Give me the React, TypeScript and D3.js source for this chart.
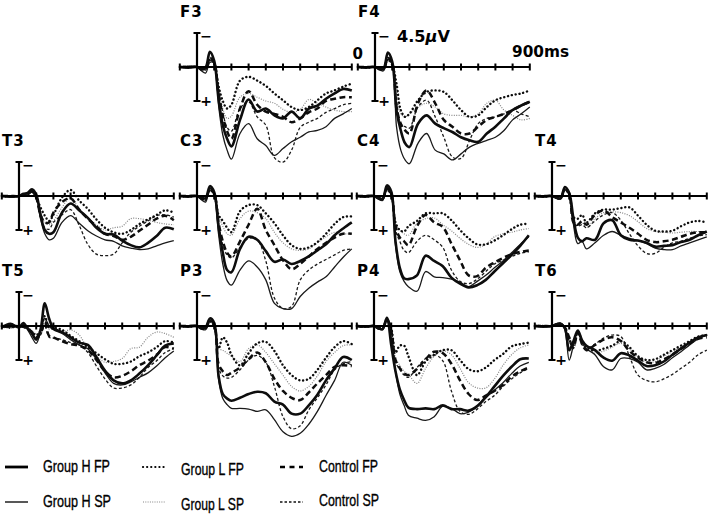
import React from 'react';
import * as d3 from 'd3';

// time points (ms)
const TIMES = [-100, -50, 0, 25, 50, 75, 100, 125, 150, 175, 200, 250, 300, 350, 400, 450, 500, 550, 600, 650, 700, 750, 800, 850, 900];
const SERIES = ['Group H FP', 'Group H SP', 'Group L FP', 'Group L SP', 'Control FP', 'Control SP'];
const X_TICKS = [-100, 100, 200, 300, 400, 500, 600, 700, 800, 900];

// amplitudes (µV, positive plotted downward), rows in SERIES order
const F3 = [
  [0, 0.1, 0, 0.3, 0.1, -2.0, -0.8, 4.2, 7.7, 9.5, 10.5, 7.0, 4.3, 5.9, 5.5, 6.4, 6.8, 5.9, 6.8, 5.5, 5.1, 4.2, 3.5, 2.9, 3.1],
  [0, -0.1, 0, 0.5, 0.8, -0.6, -0.5, 5.0, 9.0, 11.0, 12.2, 8.8, 7.5, 9.5, 10.4, 11.7, 10.8, 9.9, 9.3, 8.6, 8.4, 7.9, 6.8, 6.2, 5.5],
  [0, 0, 0, 0.2, 0.2, -1.0, -0.5, 2.5, 4.5, 5.5, 5.0, 1.8, 1.3, 1.8, 2.5, 3.5, 4.4, 5.3, 5.7, 5.3, 4.4, 3.5, 3.1, 2.6, 2.2],
  [0, 0.1, 0, 0.3, 0.3, -0.8, -0.3, 2.5, 5.5, 6.8, 6.5, 4.0, 3.5, 4.0, 4.5, 4.8, 5.6, 6.0, 5.6, 4.3, 4.8, 5.3, 5.7, 5.9, 5.9],
  [0, 0, 0, 0.2, 0.2, -1.2, -0.6, 3.5, 6.5, 8.5, 9.5, 5.5, 3.2, 5.0, 5.9, 6.2, 6.6, 7.3, 6.8, 6.0, 5.5, 4.5, 4.2, 4.0, 4.0],
  [0, 0.1, 0, 0.4, 0.4, -0.9, -0.4, 3.0, 6.0, 8.0, 8.5, 5.5, 4.6, 6.6, 7.7, 12.0, 12.6, 11.0, 8.0, 7.3, 6.8, 6.0, 5.5, 5.0, 4.8],
];
const F4 = [
  [0, 0.1, 0, 0.2, 0.2, -1.9, -0.7, 5.7, 8.4, 10.1, 10.6, 7.5, 6.4, 7.5, 8.1, 8.6, 9.3, 9.7, 9.9, 8.8, 7.9, 6.8, 5.7, 5.1, 4.6],
  [0, 0, 0, 0.4, 0.5, -1.0, -0.4, 7.9, 11.0, 12.3, 12.8, 10.1, 8.8, 11.0, 11.5, 12.3, 11.5, 10.6, 10.1, 9.7, 9.3, 8.4, 7.0, 6.2, 5.3],
  [0, 0.1, 0, 0.2, 0.2, -1.0, -0.3, 2.2, 5.7, 6.6, 6.2, 4.4, 3.3, 3.1, 3.3, 4.4, 5.7, 6.6, 6.4, 5.3, 4.4, 4.0, 3.7, 3.5, 3.1],
  [0, 0, 0, 0.3, 0.3, -0.8, -0.3, 2.6, 6.2, 6.6, 6.2, 5.3, 4.8, 5.3, 6.2, 6.4, 6.4, 6.6, 6.2, 4.8, 4.4, 5.7, 6.4, 7.0, 6.8],
  [0, 0, 0, 0.2, 0.3, -1.2, -0.5, 5.3, 7.5, 8.4, 8.8, 4.8, 3.1, 4.8, 7.0, 7.9, 8.8, 8.8, 7.9, 7.0, 6.6, 6.2, 5.7, 5.1, 4.6],
  [0, 0.1, 0, 0.3, 0.4, -1.0, -0.4, 4.4, 7.5, 7.9, 8.1, 5.3, 4.4, 6.6, 9.3, 11.9, 12.1, 9.7, 7.5, 6.8, 6.6, 6.2, 5.7, 6.2, 6.6],
];
const T3 = [
  [0, 0.1, 0, -0.3, -0.4, -0.9, -0.2, 2.5, 4.5, 5.0, 4.8, 2.2, 1.0, 1.9, 2.9, 4.2, 5.0, 5.1, 5.9, 6.5, 6.8, 6.2, 5.3, 4.2, 4.4],
  [0, 0, 0, -0.2, -0.3, -0.7, 0.0, 3.0, 5.0, 5.8, 5.6, 3.5, 2.6, 3.6, 4.6, 5.3, 5.8, 6.0, 6.6, 6.9, 7.1, 7.0, 6.6, 6.2, 5.9],
  [0, 0.1, 0, -0.2, -0.2, -0.6, 0.2, 1.5, 2.6, 3.3, 2.5, 0.2, -0.8, 0.6, 1.7, 3.1, 4.2, 4.8, 5.0, 4.5, 3.7, 3.1, 2.5, 1.9, 2.2],
  [0.1, 0, 0, -0.2, -0.1, -0.5, 0.3, 2.0, 3.5, 3.8, 3.3, 1.5, 0.2, 1.8, 3.0, 3.8, 4.5, 4.2, 4.0, 3.0, 3.0, 3.2, 3.5, 3.7, 3.8],
  [0, 0, 0, -0.2, -0.2, -0.6, 0.2, 2.5, 3.5, 3.5, 2.2, 0.8, 0.3, 1.8, 3.0, 4.0, 5.0, 5.3, 5.8, 5.4, 4.6, 3.8, 3.0, 2.6, 3.2],
  [0, 0.1, 0, -0.2, -0.2, -0.6, 0.3, 2.8, 4.2, 4.4, 3.5, 2.5, 1.8, 3.9, 6.4, 7.7, 7.9, 7.7, 6.2, 4.8, 4.0, 3.3, 2.6, 2.5, 2.8],
];
const C3 = [
  [0, 0.1, 0, 0.2, 0.3, -1.3, -0.5, 4.0, 7.5, 9.8, 10.1, 7.0, 5.4, 5.8, 7.3, 8.7, 8.4, 9.0, 8.6, 8.0, 7.2, 6.4, 5.2, 4.3, 3.5],
  [0, 0, 0, 0.5, 0.8, -1.0, -0.3, 5.0, 9.0, 11.2, 11.8, 9.8, 8.6, 9.4, 11.1, 14.2, 14.9, 14.9, 13.3, 12.2, 11.4, 10.7, 9.4, 8.1, 7.0],
  [0, 0.1, 0, 0.3, 0.4, -0.8, -0.2, 2.5, 3.3, 4.2, 4.8, 2.0, 1.2, 1.2, 2.3, 3.6, 5.2, 6.5, 7.0, 6.8, 6.1, 5.0, 3.7, 2.8, 2.7],
  [0, 0, 0, 0.3, 0.4, -0.7, -0.1, 2.5, 4.0, 5.0, 5.2, 3.0, 2.0, 2.2, 3.0, 4.8, 6.2, 7.0, 7.2, 7.0, 6.2, 5.4, 4.8, 5.0, 5.0],
  [0, 0, 0, 0.3, 0.4, -0.9, -0.3, 3.5, 6.0, 7.5, 8.0, 6.0, 3.8, 1.7, 4.5, 6.5, 8.5, 9.7, 9.0, 8.0, 7.0, 6.2, 5.5, 5.0, 5.0],
  [0, 0.1, 0, 0.4, 0.6, -0.8, -0.2, 3.5, 6.5, 7.8, 8.2, 6.8, 5.6, 5.8, 8.6, 13.5, 14.9, 14.6, 11.1, 9.8, 9.0, 8.4, 7.8, 7.2, 7.0],
];
const C4 = [
  [0, 0.1, 0, 0.2, 0.4, -1.4, -0.6, 6.0, 9.5, 10.9, 11.0, 10.5, 7.9, 8.6, 9.3, 10.8, 11.6, 12.1, 11.8, 11.1, 10.0, 8.9, 7.8, 6.6, 5.2],
  [0, 0, 0, 0.4, 0.6, -1.1, -0.4, 6.5, 10.0, 11.3, 12.0, 12.6, 10.0, 10.7, 10.8, 11.0, 11.4, 12.0, 11.3, 10.5, 9.5, 8.6, 7.5, 6.4, 5.4],
  [0, 0.1, 0, 0.3, 0.3, -0.8, -0.2, 3.5, 4.5, 4.7, 4.0, 3.3, 2.3, 2.3, 2.3, 3.2, 4.5, 5.6, 6.4, 6.4, 5.9, 5.2, 4.4, 3.8, 3.7],
  [0, 0, 0, 0.3, 0.3, -0.7, -0.1, 3.8, 4.5, 5.0, 5.2, 3.6, 3.0, 2.9, 3.8, 4.6, 5.6, 6.4, 6.8, 6.4, 5.4, 5.0, 4.8, 4.5, 4.3],
  [0, 0, 0, 0.3, 0.4, -1.0, -0.3, 4.0, 5.5, 6.0, 6.5, 4.0, 2.5, 3.5, 4.1, 6.3, 8.5, 10.5, 10.6, 9.5, 8.8, 8.2, 7.7, 7.4, 7.2],
  [0, 0.1, 0, 0.3, 0.5, -0.9, -0.2, 4.5, 6.0, 7.2, 7.5, 6.0, 5.2, 5.8, 6.8, 9.8, 11.3, 11.6, 11.0, 10.0, 9.0, 8.5, 8.0, 7.6, 7.4],
];
const T4 = [
  [0, 0.1, 0, 0.2, 0.3, -1.2, -0.4, 3.0, 5.5, 6.0, 5.6, 5.8, 3.6, 3.2, 5.2, 5.8, 5.9, 6.2, 6.7, 6.6, 6.5, 6.1, 5.8, 5.2, 4.7],
  [0, 0, 0, 0.3, 0.4, -0.9, -0.3, 3.8, 6.3, 6.0, 7.0, 6.2, 5.2, 4.7, 5.2, 5.6, 5.9, 6.3, 6.9, 7.1, 7.1, 6.6, 6.2, 5.8, 5.4],
  [0, 0.1, 0, 0.2, 0.3, -0.8, -0.2, 2.8, 3.0, 2.5, 3.5, 2.3, 1.8, 1.8, 1.6, 1.5, 2.6, 3.8, 4.6, 4.7, 4.6, 4.0, 3.5, 3.3, 3.5],
  [0, 0, 0, 0.2, 0.3, -0.7, -0.2, 3.2, 3.8, 3.5, 4.2, 3.0, 2.2, 2.1, 2.2, 2.6, 3.4, 4.3, 4.7, 4.8, 4.9, 4.8, 4.7, 4.7, 4.7],
  [0, 0, 0, 0.2, 0.3, -0.9, -0.3, 3.5, 3.8, 3.3, 3.8, 2.5, 1.9, 2.8, 3.5, 4.2, 5.0, 5.8, 6.1, 6.0, 5.8, 5.4, 5.0, 4.8, 4.8],
  [0, 0.1, 0, 0.3, 0.3, -0.8, -0.2, 3.5, 4.0, 3.8, 4.2, 3.3, 2.5, 2.2, 3.2, 5.0, 6.6, 7.6, 7.6, 6.8, 6.2, 6.0, 5.6, 5.3, 5.1],
];
const T5 = [
  [0.2, -0.3, 0.2, -0.4, 0.3, 1.0, 1.8, 0.5, -3.0, -1.0, 0.3, 0.8, 1.5, 2.2, 2.5, 4.1, 5.9, 7.2, 7.6, 7.2, 6.3, 5.2, 3.9, 2.6, 2.3],
  [0.1, -0.2, 0.1, -0.2, 0.5, 1.5, 2.3, 0.8, -1.0, 0.0, 0.5, 1.0, 1.8, 2.5, 3.0, 4.4, 6.2, 7.6, 7.8, 7.4, 6.8, 6.2, 5.3, 4.2, 3.3],
  [0, 0.2, 0, 0.1, 0.3, 0.8, 1.2, 0.6, -1.3, 0.2, 0.2, 0.5, 1.3, 2.0, 2.8, 3.6, 4.4, 5.0, 5.0, 4.7, 4.0, 3.5, 2.8, 2.0, 2.2],
  [0.1, 0.3, 0, 0.2, 0.2, 0.6, 1.0, 0.8, -1.0, 0.4, 0.4, 0.8, 0.5, 1.2, 3.0, 4.0, 4.8, 4.7, 4.3, 3.0, 2.8, 1.5, 0.8, 1.0, 1.5],
  [0, 0.1, 0, 0.1, 0.3, 0.8, 1.5, 1.0, -0.5, 1.3, 1.5, 2.0, 2.4, 2.6, 3.2, 4.5, 6.0, 6.8, 6.6, 6.0, 5.2, 4.6, 3.8, 2.8, 3.0],
  [0.1, 0.2, 0, 0.2, 0.4, 1.0, 1.8, 1.2, 0, 1.5, 1.6, 1.8, 2.2, 2.5, 3.5, 5.3, 7.0, 8.2, 8.2, 7.8, 6.8, 5.5, 4.6, 3.5, 3.0],
];
const P3 = [
  [0, 0.1, 0, 0.3, 0.2, -1.0, -0.4, 6.5, 9.0, 9.6, 9.9, 9.5, 9.0, 8.7, 8.9, 10.0, 10.4, 11.6, 11.6, 10.5, 9.1, 7.2, 5.6, 4.1, 4.5],
  [0, 0, 0, 0.4, 0.5, -0.7, -0.2, 7.0, 9.6, 10.4, 10.9, 10.9, 11.0, 11.3, 11.1, 12.4, 14.0, 14.6, 14.2, 13.0, 11.3, 9.2, 7.2, 4.8, 5.2],
  [0, 0.1, 0, 0.2, 0.3, -0.6, 0, 3.0, 1.5, 2.2, 3.8, 5.2, 3.6, 2.3, 2.1, 3.3, 5.2, 6.5, 7.2, 7.0, 5.8, 4.2, 2.8, 2.0, 2.4],
  [0, 0, 0, 0.2, 0.3, -0.5, 0.1, 3.0, 3.2, 3.6, 4.0, 4.7, 3.0, 2.5, 3.5, 5.0, 6.5, 8.0, 8.6, 8.0, 6.6, 4.7, 3.5, 2.6, 2.5],
  [0, 0, 0, 0.3, 0.3, -0.8, -0.2, 5.0, 6.0, 6.5, 6.2, 5.5, 4.4, 3.5, 4.8, 7.0, 8.6, 9.5, 9.8, 8.8, 7.6, 6.5, 5.4, 5.2, 5.3],
  [0, 0.1, 0, 0.3, 0.4, -0.7, -0.1, 5.5, 6.6, 6.9, 6.8, 5.8, 4.5, 3.9, 4.8, 8.0, 12.0, 13.6, 13.2, 11.1, 9.5, 7.8, 5.8, 5.0, 4.7],
];
const P4 = [
  [0, 0.1, 0, 0.3, 0.4, -1.1, 2.5, 6.0, 8.4, 9.8, 10.8, 11.0, 10.9, 11.0, 10.5, 11.0, 11.0, 11.2, 10.6, 9.4, 8.0, 6.6, 5.4, 4.4, 4.3],
  [0, 0, 0, 0.4, 0.5, -0.8, 1.5, 6.0, 9.0, 10.5, 11.8, 12.2, 12.5, 12.0, 10.6, 10.9, 11.6, 11.4, 10.6, 9.5, 8.5, 7.5, 6.3, 5.3, 4.8],
  [0, 0.1, 0, 0.2, 0.3, -0.7, 0.3, 3.5, 2.6, 2.6, 4.0, 6.5, 4.7, 3.8, 3.2, 3.2, 4.5, 5.7, 6.0, 5.5, 4.5, 3.7, 2.7, 2.4, 2.2],
  [0, 0, 0, 0.2, 0.3, -0.6, 0.5, 4.2, 5.2, 6.0, 6.4, 7.6, 5.6, 4.0, 3.3, 3.8, 5.6, 7.5, 8.2, 8.2, 7.0, 5.2, 3.8, 2.9, 2.5],
  [0, 0.1, 0, 0.3, 0.3, -0.9, 0.6, 4.5, 5.6, 6.3, 6.5, 5.7, 4.4, 3.4, 3.6, 5.0, 7.2, 9.0, 9.8, 9.2, 8.6, 7.8, 6.7, 6.0, 5.5],
  [0, 0, 0, 0.3, 0.4, -0.8, 0.6, 4.8, 5.7, 6.5, 6.8, 5.5, 4.3, 3.8, 4.6, 8.6, 11.3, 11.7, 11.0, 10.0, 9.2, 8.0, 7.0, 6.2, 5.6],
];
const T6 = [
  [0, 0.1, 0, -0.2, -0.3, 0.3, 3.2, 2.0, 0.6, 1.9, 2.6, 3.2, 4.2, 4.6, 3.6, 3.9, 4.6, 5.3, 5.2, 4.7, 3.8, 3.0, 2.2, 1.5, 1.2],
  [0, 0, 0, -0.3, -0.4, 0.5, 4.5, 2.5, 0.6, 2.2, 3.0, 3.8, 5.4, 5.8, 4.3, 4.3, 4.8, 5.8, 5.6, 5.1, 4.2, 3.4, 2.5, 1.7, 1.2],
  [0, 0, 0, -0.2, -0.3, 0.2, 1.8, 2.5, 0.8, 2.0, 2.8, 3.3, 3.0, 2.6, 2.0, 2.8, 4.0, 4.5, 4.4, 3.8, 3.2, 2.6, 2.0, 1.4, 1.2],
  [0, 0.1, 0, -0.1, -0.2, 0.3, 1.6, 2.3, 0.7, 2.2, 3.0, 3.6, 3.3, 2.8, 2.3, 3.0, 4.2, 4.8, 4.7, 4.0, 3.4, 2.8, 2.2, 1.6, 1.3],
  [0, 0, 0, -0.2, -0.2, 0.2, 1.5, 2.8, 0.8, 2.4, 3.2, 2.5, 1.8, 1.5, 2.0, 3.3, 4.2, 4.8, 4.9, 4.4, 3.8, 3.0, 2.3, 1.7, 1.5],
  [0, 0.1, 0, -0.1, -0.2, 0.3, 2.0, 3.0, 0.8, 2.5, 3.0, 2.4, 1.6, 1.2, 1.4, 4.0, 6.5, 7.2, 7.4, 7.0, 6.4, 5.6, 4.8, 3.8, 3.2],
];

// layout: zero-time x position and baseline y of each panel
const PANELS = [
  { name: 'F3', data: F3, x0: 197, base: 67 },
  { name: 'F4', data: F4, x0: 375, base: 67 },
  { name: 'T3', data: T3, x0: 19, base: 196 },
  { name: 'C3', data: C3, x0: 197, base: 196 },
  { name: 'C4', data: C4, x0: 374, base: 196 },
  { name: 'T4', data: T4, x0: 552, base: 196 },
  { name: 'T5', data: T5, x0: 19, base: 326 },
  { name: 'P3', data: P3, x0: 197, base: 326 },
  { name: 'P4', data: P4, x0: 374, base: 326 },
  { name: 'T6', data: T6, x0: 552, base: 326 },
];

type Sty = { stroke: string; width: number; dash?: string; cap?: string };
const STYLES: Sty[] = [
  { stroke: '#0d0d0d', width: 2.6 },
  { stroke: '#1a1a1a', width: 1.3 },
  { stroke: '#0d0d0d', width: 2.4, dash: '0.1 3.8', cap: 'round' },
  { stroke: '#858585', width: 1.2, dash: '1 1.4' },
  { stroke: '#0d0d0d', width: 2.5, dash: '6 3.5' },
  { stroke: '#1a1a1a', width: 1.3, dash: '3 2.2' },
];
const DRAW_ORDER = [3, 5, 1, 4, 2, 0];

const LABEL_FONT = 'DejaVu Sans, Verdana, sans-serif';
const LEGEND_FONT = 'Liberation Sans Narrow, Liberation Sans, Arial, sans-serif';

function Panel({ p }: { p: typeof PANELS[number] }) {
  const PX100 = 17.2;
  const x = d3.scaleLinear().domain([-100, 900]).range([p.x0 - PX100, p.x0 + 9 * PX100]);
  const y = d3.scaleLinear().domain([-4.5, 4.5]).range([p.base - 34, p.base + 34]);
  const line = d3
    .line<number>()
    .x((_, i) => x(TIMES[i]))
    .y((v) => y(v))
    .curve(d3.curveCatmullRom.alpha(0.5));
  const top = y(-4.5);
  const bot = y(4.5);
  return (
    <g>
      <text x={p.x0 - 17} y={p.base - 50} fontFamily={LABEL_FONT} fontWeight="bold" fontSize={15} letterSpacing={1} fill="#000">
        {p.name}
      </text>
      {DRAW_ORDER.map((si) => {
        const s = STYLES[si];
        return (
          <path
            key={si}
            d={line(p.data[si]) || ''}
            fill="none"
            stroke={s.stroke}
            strokeWidth={s.width}
            strokeDasharray={s.dash}
            strokeLinecap={(s.cap as any) || 'butt'}
            strokeLinejoin="round"
          />
        );
      })}
      {/* time axis */}
      <line x1={x(-100)} x2={x(900)} y1={y(0)} y2={y(0)} stroke="#000" strokeWidth={2.2} />
      {X_TICKS.map((t) => (
        <line key={t} x1={x(t)} x2={x(t)} y1={y(0) - 3.5} y2={y(0) + 3.5} stroke="#000" strokeWidth={2} />
      ))}
      {/* amplitude axis */}
      <line x1={p.x0} x2={p.x0} y1={top} y2={bot} stroke="#000" strokeWidth={2.2} />
      <line x1={p.x0 - 3.5} x2={p.x0 + 3.5} y1={top} y2={top} stroke="#000" strokeWidth={2} />
      <line x1={p.x0 - 3.5} x2={p.x0 + 3.5} y1={bot} y2={bot} stroke="#000" strokeWidth={2} />
      <text x={p.x0 + 9} y={top + 8} fontFamily={LABEL_FONT} fontWeight="bold" fontSize={14} textAnchor="middle" fill="#000">−</text>
      <text x={p.x0 + 9} y={bot + 5} fontFamily={LABEL_FONT} fontWeight="bold" fontSize={14} textAnchor="middle" fill="#000">+</text>
    </g>
  );
}

export default function App() {
  const f4 = PANELS[1];
  const legendRows = [
    [0, 2, 4],
    [1, 3, 5],
  ];
  const colX = [5, 143, 280];
  const textX = [43, 181, 319];
  const rowY = [467, 502];
  const textDy = [[5, 8, 5], [5, 8, 4]];
  const textLen: Record<string, number> = {
    'Group H FP': 67, 'Group H SP': 68, 'Group L FP': 63, 'Group L SP': 63, 'Control FP': 59, 'Control SP': 60,
  };
  const legStyles: Sty[] = [
    { stroke: '#000', width: 2.8 },
    { stroke: '#111', width: 1.4 },
    { stroke: '#000', width: 2.2, dash: '0.1 4', cap: 'round' },
    { stroke: '#858585', width: 1.2, dash: '1 1.3' },
    { stroke: '#000', width: 2.5, dash: '5 4.5' },
    { stroke: '#111', width: 1.5, dash: '2.5 2' },
  ];
  return (
    <svg width={708} height={516} style={{ position: 'absolute', left: 0, top: 0, background: '#fff' }}>
      <rect width={708} height={516} fill="#fff" />
      {PANELS.map((p) => (
        <Panel key={p.name} p={p} />
      ))}
      {/* scale annotations on F4 */}
      <text x={f4.x0 - 12} y={f4.base - 8} fontFamily={LABEL_FONT} fontWeight="bold" fontSize={15} textAnchor="end" fill="#000">0</text>
      <text x={f4.x0 + 22} y={f4.base - 25} fontFamily={LABEL_FONT} fontWeight="bold" fontSize={15} fill="#000" textLength={53} lengthAdjust="spacingAndGlyphs">
        4.5<tspan fontStyle="italic">μ</tspan>V
      </text>
      <text x={f4.x0 + 137} y={f4.base - 10} fontFamily={LABEL_FONT} fontWeight="bold" fontSize={15} fill="#000" textLength={57} lengthAdjust="spacingAndGlyphs">
        900ms
      </text>
      {/* legend */}
      {legendRows.map((row, ri) =>
        row.map((si, ci) => {
          const s = legStyles[si];
          const ly = rowY[ri];
          return (
            <g key={si}>
              <line x1={colX[ci]} x2={colX[ci] + 23} y1={ly} y2={ly} stroke={s.stroke} strokeWidth={s.width} strokeDasharray={s.dash} strokeLinecap={(s.cap as any) || 'butt'} />
              <text x={textX[ci]} y={ly + textDy[ri][ci]} fontFamily={LEGEND_FONT} fontSize={17} fill="#000" stroke="#000" strokeWidth={0.35} textLength={textLen[SERIES[si]]} lengthAdjust="spacingAndGlyphs">
                {SERIES[si]}
              </text>
            </g>
          );
        })
      )}
    </svg>
  );
}
